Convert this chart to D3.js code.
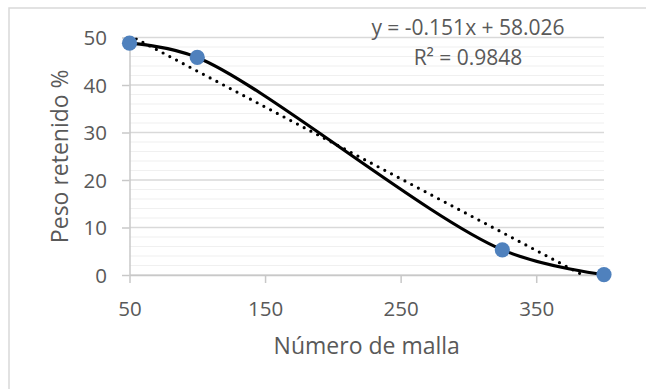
<!DOCTYPE html>
<html>
<head>
<meta charset="utf-8">
<script src="https://cdn.jsdelivr.net/npm/d3@7/dist/d3.min.js"></script>
<style>
  html, body { margin: 0; padding: 0; background: #fff; }
  svg { display: block; font-family: "Open Sans", "Noto Sans", sans-serif; }
</style>
</head>
<body>
<svg id="chart" width="646" height="389"></svg>
<script>
// ---- data ----
const mallas = [50, 100, 325, 400];          // Número de malla
const pesos = [48.8, 45.8, 5.3, 0.1];        // Peso retenido %
const xTicks = [50, 150, 250, 350];
const yTicks = [0, 10, 20, 30, 40, 50];
const yMinorTicks = d3.range(0, 50.001, 2);
const trendSlope = -0.151;
const trendIntercept = 58.026;
const trendLabel = "y = -0.151x + 58.026";
const r2Label = "R\u00B2 = 0.9848";
const xTitle = "Número de malla";
const yTitle = "Peso retenido %";

// ---- layout ----
const svg = d3.select("#chart");
const plot = { left: 129.5, right: 604, top: 37.5, bottom: 275 };
const x = d3.scaleLinear().domain([50, 400]).range([plot.left, plot.right]);
const y = d3.scaleLinear().domain([0, 50]).range([plot.bottom, plot.top]);
const textColor = "#595959";

// outer chart border (extends past the image on right/bottom)
svg.append("rect")
  .attr("x", 9).attr("y", 8).attr("width", 700).attr("height", 450)
  .attr("fill", "#fff").attr("stroke", "#d9d9d9").attr("stroke-width", 1.5);

// minor gridlines
svg.append("g").selectAll("line").data(yMinorTicks.filter(v => v % 10 !== 0)).join("line")
  .attr("x1", plot.left).attr("x2", plot.right)
  .attr("y1", d => y(d)).attr("y2", d => y(d))
  .attr("stroke", "#f0f0f0").attr("stroke-width", 1.2);

// major gridlines
svg.append("g").selectAll("line").data(yTicks).join("line")
  .attr("x1", plot.left).attr("x2", plot.right)
  .attr("y1", d => y(d)).attr("y2", d => y(d))
  .attr("stroke", "#d9d9d9").attr("stroke-width", 1.5);

// y axis
const yAxis = svg.append("g").attr("transform", `translate(${plot.left},0)`)
  .call(d3.axisLeft(y).tickValues(yTicks).tickSize(7.5).tickPadding(15).tickSizeOuter(0));
yAxis.select(".domain").attr("stroke", "#c8c8c8").attr("stroke-width", 1.5);
yAxis.selectAll(".tick line").attr("stroke", "#c8c8c8").attr("stroke-width", 1.5);
yAxis.selectAll(".tick text").attr("fill", textColor).attr("font-size", 20.5)
  .attr("font-family", "Open Sans, sans-serif").attr("dy", "0.36em");

// x axis
const xAxis = svg.append("g").attr("transform", `translate(0,${plot.bottom})`)
  .call(d3.axisBottom(x).tickValues(xTicks).tickSize(8).tickPadding(18).tickSizeOuter(0));
xAxis.select(".domain").attr("stroke", "#c8c8c8").attr("stroke-width", 1.5);
xAxis.selectAll(".tick line").attr("stroke", "#c8c8c8").attr("stroke-width", 1.5);
xAxis.selectAll(".tick text").attr("fill", textColor).attr("font-size", 20.5)
  .attr("font-family", "Open Sans, sans-serif").attr("dy", "0.71em");

// clip to plot area
svg.append("clipPath").attr("id", "clip").append("rect")
  .attr("x", plot.left).attr("y", plot.top)
  .attr("width", plot.right - plot.left).attr("height", plot.bottom - plot.top);

const pts = mallas.map((m, i) => ({ x: m, y: pesos[i] }));

// smoothed series line
svg.append("path").datum(pts)
  .attr("d", d3.line().x(d => x(d.x)).y(d => y(d.y)).curve(d3.curveCatmullRom.alpha(0.5)))
  .attr("fill", "none").attr("stroke", "#000").attr("stroke-width", 3.2)
  .attr("stroke-linecap", "round");

// linear trendline (dotted)
const trendPts = x.domain().map(v => ({ x: v, y: trendSlope * v + trendIntercept }));
svg.append("path").datum(trendPts)
  .attr("clip-path", "url(#clip)")
  .attr("d", d3.line().x(d => x(d.x)).y(d => y(d.y)))
  .attr("fill", "none").attr("stroke", "#000").attr("stroke-width", 3.2)
  .attr("stroke-linecap", "round").attr("stroke-dasharray", "0 7.6");

// markers
svg.append("g").selectAll("circle").data(pts).join("circle")
  .attr("cx", d => x(d.x)).attr("cy", d => y(d.y)).attr("r", 7.6)
  .attr("fill", "#4f81bd");

// trendline label
svg.append("text").attr("x", 468).attr("y", 35).attr("text-anchor", "middle")
  .attr("fill", textColor).attr("font-size", 21).text(trendLabel);
svg.append("text").attr("x", 468).attr("y", 65).attr("text-anchor", "middle")
  .attr("fill", textColor).attr("font-size", 21).text(r2Label);

// axis titles
svg.append("text").attr("x", (plot.left + plot.right) / 2).attr("y", 354)
  .attr("text-anchor", "middle").attr("fill", textColor).attr("font-size", 23).text(xTitle);
svg.append("text")
  .attr("transform", `translate(68,${(plot.top + plot.bottom) / 2}) rotate(-90)`)
  .attr("text-anchor", "middle").attr("fill", textColor).attr("font-size", 23).text(yTitle);
</script>
</body>
</html>
